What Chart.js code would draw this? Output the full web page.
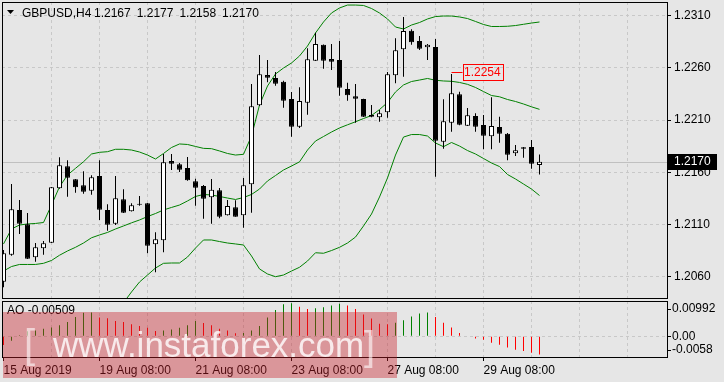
<!DOCTYPE html>
<html>
<head>
<meta charset="utf-8">
<script src="https://cdn.jsdelivr.net/npm/chart.js@4/dist/chart.umd.min.js"></script>
<style>
  html, body { margin:0; padding:0; background:#e6e6e6; }
  body { width:724px; height:382px; position:relative; overflow:hidden; }
  canvas { position:absolute; left:0; display:block; }
  #main { top:0; }
  #ao { top:300px; }
</style>
</head>
<body>
<canvas id="main" width="724" height="300"></canvas>
<canvas id="ao" width="724" height="82"></canvas>
<script>
// ---------------- DATA ----------------
const symbol = 'GBPUSD,H4';
const opens  = [1.20554,1.20812,1.2124,1.21103,1.20787,1.20873,1.20927,1.21447,1.21657,1.21533,
                1.21476,1.21424,1.21565,1.2124,1.21109,1.21342,1.21227,1.21294,1.21304,1.20912,
                1.2095,1.21708,1.21676,1.21641,1.21514,1.21469,1.21361,1.21428,1.21189,1.21265,
                1.21189,1.21485,1.22241,1.2253,1.22502,1.22466,1.22301,1.22036,1.22265,1.22667,
                1.2282,1.22683,1.22674,1.22396,1.22327,1.22301,1.22148,1.22126,1.22174,1.22527,
                1.22776,1.22954,1.22855,1.22795,1.22798,1.21893,1.22074,1.22346,1.22045,1.22138,
                1.22052,1.21944,1.22033,1.21969,1.21782,1.21839,1.21842,1.2167];
const highs  = [1.20857,1.21488,1.21335,1.21211,1.20924,1.20943,1.2146,1.21743,1.21715,1.21536,
                1.2161,1.21571,1.21715,1.21294,1.21565,1.21437,1.21304,1.21373,1.21307,1.21026,
                1.21775,1.21775,1.21689,1.21746,1.21539,1.21479,1.21536,1.2145,1.21335,1.21332,
                1.21546,1.22444,1.22721,1.22674,1.22559,1.22476,1.22368,1.22413,1.22785,1.22935,
                1.22822,1.22827,1.22855,1.22457,1.22444,1.22303,1.22243,1.22196,1.22559,1.22881,
                1.23085,1.22967,1.22903,1.22827,1.22874,1.22298,1.2254,1.22371,1.22215,1.22164,
                1.22148,1.22317,1.22132,1.21976,1.21861,1.21842,1.21909,1.2177];
const lows   = [1.20501,1.20803,1.2101,1.2077,1.20745,1.20812,1.20924,1.21443,1.21367,1.21405,
                1.21395,1.21386,1.21144,1.21042,1.21096,1.2121,1.21225,1.21281,1.20826,1.20644,
                1.20835,1.21622,1.21603,1.2152,1.21281,1.21156,1.21109,1.2116,1.21187,1.21174,
                1.2107,1.21214,1.22234,1.2246,1.22428,1.22218,1.2194,1.22024,1.22151,1.22665,
                1.2259,1.22578,1.22332,1.22284,1.22074,1.22128,1.22126,1.22084,1.22122,1.22451,
                1.22514,1.2282,1.22769,1.22674,1.21558,1.21826,1.21988,1.2205,1.22043,1.21988,
                1.2182,1.2182,1.21883,1.21715,1.21756,1.2174,1.21634,1.2158];
const closes = [1.20826,1.21246,1.21109,1.20774,1.20883,1.20921,1.21457,1.21667,1.21548,1.21457,
                1.21415,1.21552,1.21242,1.21099,1.21351,1.21214,1.21285,1.2129,1.20898,1.20959,
                1.21696,1.21682,1.21625,1.21524,1.21453,1.21348,1.21434,1.21176,1.21278,1.21176,
                1.21476,1.22231,1.22537,1.22504,1.22447,1.22284,1.22036,1.22282,1.2268,1.22827,
                1.22667,1.22657,1.22409,1.22336,1.22304,1.22132,1.22132,1.22164,1.22537,1.22766,
                1.22951,1.22843,1.22782,1.2282,1.21902,1.22088,1.22355,1.22055,1.22145,1.22036,
                1.2195,1.22043,1.21969,1.21768,1.2181,1.21826,1.21682,1.2170];
const bbUpper = [1.20915,1.21058,1.21096,1.21106,1.21111,1.2112,1.21287,1.21462,1.21574,1.21638,
                 1.21701,1.21775,1.21791,1.21797,1.2182,1.2182,1.21813,1.21794,1.21765,1.21727,
                 1.2178,1.21837,1.21871,1.21866,1.21847,1.21829,1.21826,1.21804,1.2178,1.21765,
                 1.21772,1.21947,1.22243,1.22425,1.2254,1.22597,1.22645,1.22712,1.22807,1.22932,
                 1.23037,1.23123,1.23171,1.23199,1.23199,1.23195,1.23166,1.23123,1.23066,1.22989,
                 1.2297,1.23008,1.23032,1.23066,1.23089,1.23094,1.23094,1.23085,1.2307,1.23042,
                 1.23013,1.22994,1.22994,1.22996,1.23003,1.23015,1.23027,1.23037];
const bbMiddle = [1.20656,1.20699,1.20719,1.20719,1.20719,1.2073,1.20757,1.20807,1.20848,1.20883,
                  1.20924,1.20974,1.21001,1.21025,1.21058,1.21087,1.21117,1.21144,1.21177,1.21206,
                  1.2124,1.21264,1.21287,1.21326,1.21369,1.21388,1.21383,1.21369,1.21354,1.2134,
                  1.21359,1.21388,1.2144,1.21517,1.21569,1.21622,1.2166,1.217,1.21813,1.21899,
                  1.21942,1.21985,1.22024,1.22054,1.22083,1.22114,1.22143,1.222,1.22267,1.22368,
                  1.22435,1.22468,1.22482,1.22497,1.2248,1.22473,1.2247,1.22459,1.22441,1.22411,
                  1.22372,1.22334,1.22322,1.22296,1.22277,1.22253,1.22226,1.22202];
const bbLower = [1.20379,1.20341,1.20341,1.20331,1.20327,1.20341,1.20226,1.2015,1.20121,1.20131,
                 1.2015,1.20173,1.2021,1.20252,1.20296,1.20353,1.20456,1.20551,1.20618,1.20685,
                 1.2073,1.20733,1.20733,1.2079,1.20876,1.20953,1.20953,1.20938,1.20924,1.20915,
                 1.20905,1.208,1.20676,1.20628,1.20602,1.20618,1.20656,1.20692,1.20752,1.20831,
                 1.20826,1.20852,1.20883,1.20924,1.20981,1.21087,1.21201,1.21364,1.21546,1.21765,
                 1.21937,1.21961,1.21961,1.21947,1.2188,1.21845,1.21885,1.21851,1.21808,1.21775,
                 1.21732,1.21689,1.21655,1.21579,1.21536,1.21488,1.2144,1.21378];
const aoValues = [-0.00242,-0.00124,0.00029,0.00144,0.00164,0.0021,0.0025,0.00308,0.00403,0.00546,
                  0.00661,0.0067,0.00526,0.00509,0.00431,0.00403,0.00336,0.00288,0.00239,0.00152,
                  0.00164,0.00193,0.00239,0.00308,0.00431,0.00374,0.00308,0.0021,0.00164,0.00086,
                  0.00095,0.00164,0.00288,0.00526,0.00739,0.009,0.00929,0.00834,0.00768,0.00785,
                  0.00814,0.00863,0.00912,0.00863,0.00768,0.00613,0.00498,0.00354,0.00336,0.00383,
                  0.00452,0.00555,0.00641,0.0067,0.00546,0.00383,0.0025,0.00095,0.0002,-0.00058,
                  -0.00095,-0.00181,-0.00239,-0.00316,-0.00374,-0.00411,-0.0046,-0.00509];
const priceTicks = [1.2060, 1.2110, 1.2160, 1.2210, 1.2260, 1.2310];
const priceTickLabels = ['1.2060','1.2110','1.2160','1.2210','1.2260','1.2310'];
const timeTickBars = [0, 12, 24, 36, 48, 60];
const timeTickLabels = ['15 Aug 2019','19 Aug 08:00','21 Aug 08:00','23 Aug 08:00','27 Aug 08:00','29 Aug 08:00'];
const aoTickValues = [0.00992, 0, -0.0058];
const aoTickLabels = ['0.00992','0.00','-0.0058'];
const lastPrice = 1.2170;
const markedHigh = { bar: 56, price: 1.2254 };

// ---------------- STYLE ----------------
const FONT = '"Liberation Sans", Arial, sans-serif';
Chart.defaults.font.family = FONT;
Chart.defaults.font.size = 12;
Chart.defaults.color = '#000';
const gridColor = '#c8c8c8';
const bandColor = '#008000';
const aoUp = '#008000', aoDown = '#ff0000';
const xMin = -0.1875, xMax = 82.9375;
const yMin = 1.203983, yMax = 1.232281;
const gridBars = []; for (let k = 0; k <= 78; k += 6) gridBars.push(k);

const idx = opens.map((_, k) => k);
const wickData = idx.map(k => ({ x: k, y: [lows[k], highs[k]] }));
const bodyData = idx.map(k => ({ x: k, y: [opens[k], closes[k]] }));
const bodyColors = idx.map(k => closes[k] >= opens[k] ? '#ffffff' : '#000000');
const band = arr => arr.map((v, k) => ({ x: k, y: v }));
const aoColors = aoValues.map((v, k) => (k > 0 && v > aoValues[k - 1]) ? aoUp : aoDown);

// ---------------- PLUGINS ----------------
const mainDecor = {
  id: 'mainDecor',
  beforeDatasetsDraw(chart) {
    const { ctx, chartArea: a, scales: { y } } = chart;
    const py = Math.round(y.getPixelForValue(lastPrice)) + 0.5;
    ctx.save();
    ctx.strokeStyle = '#c0c0c0'; ctx.lineWidth = 1;
    ctx.beginPath(); ctx.moveTo(a.left, py); ctx.lineTo(a.right, py); ctx.stroke();
    ctx.restore();
  },
  afterDraw(chart) {
    const { ctx, chartArea: a, scales: { x, y } } = chart;
    ctx.save();
    ctx.strokeStyle = '#000'; ctx.lineWidth = 1;
    ctx.strokeRect(a.left + 0.5, a.top + 0.5, a.right - a.left, a.bottom - a.top);
    // current price box
    const py = Math.round(y.getPixelForValue(lastPrice));
    ctx.fillStyle = '#000';
    ctx.fillRect(a.right, py - 8, 50, 16);
    ctx.font = '12px ' + FONT;
    ctx.textBaseline = 'middle'; ctx.textAlign = 'left';
    ctx.fillStyle = '#fff';
    ctx.fillText(lastPrice.toFixed(4), a.right + 7, py);
    // header
    ctx.fillStyle = '#000';
    ctx.beginPath(); ctx.moveTo(7, 10); ctx.lineTo(14, 10); ctx.lineTo(10.5, 14); ctx.closePath(); ctx.fill();
    ctx.textBaseline = 'alphabetic';
    ctx.fillText(symbol, 22, 17);
    const last = opens.length - 1;
    [opens[last], highs[last], lows[last], closes[last]].forEach((v, i) => {
      ctx.fillText(v.toFixed(4), 94 + 42.7 * i, 17);
    });
    // high marker
    const hx = x.getPixelForValue(markedHigh.bar);
    const hy = Math.floor(y.getPixelForValue(markedHigh.price)) - 0.5;
    ctx.strokeStyle = '#ff0000'; ctx.fillStyle = '#ff0000';
    ctx.beginPath(); ctx.moveTo(hx, hy); ctx.lineTo(hx + 11, hy); ctx.stroke();
    ctx.strokeRect(Math.round(hx + 11) + 0.5, hy - 8, 40, 16);
    ctx.textBaseline = 'middle';
    ctx.fillText(markedHigh.price.toFixed(4), hx + 12.5, hy + 0.5);
    ctx.restore();
  }
};

const aoDecor = {
  id: 'aoDecor',
  afterDraw(chart) {
    const { ctx, chartArea: a, scales: { y } } = chart;
    ctx.save();
    ctx.strokeStyle = '#000'; ctx.lineWidth = 1;
    ctx.strokeRect(a.left + 0.5, a.top + 0.5, a.right - a.left, a.bottom - a.top);
    ctx.font = '12px ' + FONT; ctx.fillStyle = '#000';
    ctx.textBaseline = 'middle'; ctx.textAlign = 'left';
    aoTickValues.forEach((v, i) => {
      let py = y.getPixelForValue(v);
      py = Math.min(Math.max(py, a.top + 8), a.bottom - 7);
      ctx.fillText(aoTickLabels[i], a.right + 5, py);
      const ty = Math.round(py) + 0.5;
      ctx.beginPath(); ctx.moveTo(a.right, ty); ctx.lineTo(a.right + 4, ty); ctx.stroke();
    });
    ctx.fillText('AO ' + aoValues[aoValues.length - 1].toFixed(5), 7, 11);
    // watermark
    ctx.fillStyle = 'rgba(200,30,40,0.4)';
    ctx.fillRect(3, 12, 394, 66);
    ctx.textBaseline = 'alphabetic';
    ctx.fillStyle = 'rgba(255,255,255,0.8)';
    ctx.font = '35px ' + FONT;
    ctx.fillText('www.instaforex.com', 53, 57);
    ctx.fillStyle = 'rgba(255,255,255,0.6)';
    ctx.font = '300 40px ' + FONT;
    ctx.fillText('[', 24, 58);
    ctx.fillText(']', 364, 60);
    ctx.restore();
  }
};

const common = {
  responsive: false, animation: false, devicePixelRatio: 1, events: [],
  plugins: { legend: { display: false }, tooltip: { enabled: false } }
};

// ---------------- MAIN CHART ----------------
new Chart(document.getElementById('main'), {
  type: 'bar',
  data: {
    datasets: [
      { type: 'line', data: band(bbUpper), borderColor: bandColor, borderWidth: 1, pointRadius: 0, tension: 0, order: 2 },
      { type: 'line', data: band(bbMiddle), borderColor: bandColor, borderWidth: 1, pointRadius: 0, tension: 0, order: 2 },
      { type: 'line', data: band(bbLower), borderColor: bandColor, borderWidth: 1, pointRadius: 0, tension: 0, order: 2 },
      { type: 'bar', data: wickData, backgroundColor: '#000', borderWidth: 0, barThickness: 1,
        grouped: false, inflateAmount: 0, order: 1, clip: 0 },
      { type: 'bar', data: bodyData, backgroundColor: bodyColors, borderColor: '#000', borderWidth: 1,
        borderSkipped: false, barThickness: 5, minBarLength: 1, grouped: false, inflateAmount: 0, order: 0, clip: 0 }
    ]
  },
  options: Object.assign({}, common, {
    layout: { padding: { left: 2, top: 2, right: 0, bottom: 2 }, autoPadding: false },
    scales: {
      x: {
        type: 'linear', min: xMin, max: xMax, offset: false,
        afterBuildTicks: s => { s.ticks = gridBars.filter(k => k > 0).map(v => ({ value: v })); },
        afterFit: s => { s.height = 0; s.paddingLeft = 0; s.paddingRight = 0; },
        ticks: { display: false },
        grid: { color: gridColor, offset: false, drawTicks: false },
        border: { display: false, dash: [3, 3] }
      },
      y: {
        type: 'linear', position: 'right', min: yMin, max: yMax,
        afterBuildTicks: s => { s.ticks = priceTicks.map(v => ({ value: v })); },
        afterFit: s => { s.width = 57; s.paddingTop = 0; s.paddingBottom = 0; },
        ticks: { callback: (v, i) => priceTickLabels[i], padding: 3, autoSkip: false },
        grid: { color: gridColor, tickColor: '#000', tickLength: 4 },
        border: { display: false, dash: [3, 3] }
      }
    }
  }),
  plugins: [mainDecor]
});

// ---------------- AO CHART ----------------
new Chart(document.getElementById('ao'), {
  type: 'bar',
  data: {
    datasets: [{
      data: aoValues.map((v, k) => ({ x: k, y: v })), backgroundColor: aoColors, borderWidth: 0,
      barThickness: 1, inflateAmount: 0, grouped: false, clip: 0
    }]
  },
  options: Object.assign({}, common, {
    layout: { padding: { left: 2, top: 1, right: 0, bottom: 0 }, autoPadding: false },
    scales: {
      x: {
        type: 'linear', min: xMin, max: xMax, offset: false,
        afterBuildTicks: s => { s.ticks = gridBars.map(v => ({ value: v })); },
        afterFit: s => { s.height = 25; s.paddingLeft = 0; s.paddingRight = 0; },
        ticks: {
          autoSkip: false, maxRotation: 0, minRotation: 0, align: 'start', padding: 2,
          callback: v => { const i = timeTickBars.indexOf(v); return i < 0 ? '' : timeTickLabels[i]; }
        },
        grid: {
          offset: false, tickLength: 4,
          color: c => (c.tick && c.tick.value === 0) ? 'rgba(0,0,0,0)' : gridColor,
          tickColor: c => (c.tick && timeTickBars.includes(c.tick.value)) ? '#000' : 'rgba(0,0,0,0)'
        },
        border: { display: false, dash: [3, 3] }
      },
      y: {
        type: 'linear', position: 'right', min: aoTickValues[2], max: aoTickValues[0],
        afterBuildTicks: s => { s.ticks = [{ value: 0 }]; },
        afterFit: s => { s.width = 57; s.paddingTop = 0; s.paddingBottom = 0; },
        ticks: { display: false },
        grid: { color: gridColor, drawTicks: false },
        border: { display: false, dash: [3, 3] }
      }
    }
  }),
  plugins: [aoDecor]
});
</script>
</body>
</html>
